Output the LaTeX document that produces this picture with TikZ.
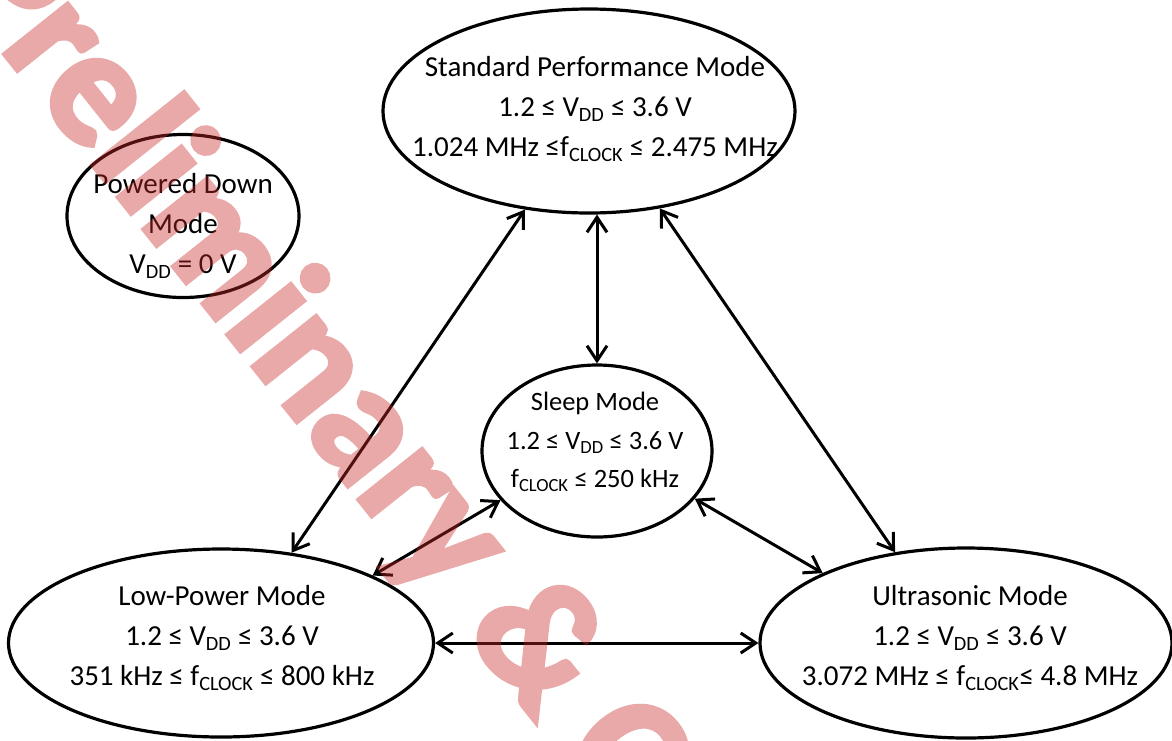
\documentclass[tikz,border=0pt]{standalone}
\usepackage{fontspec}
\setmainfont{Carlito}
\newfontfamily\wmfont[FakeBold=3]{Carlito Bold}
\usetikzlibrary{arrows.meta,shapes.geometric}
\definecolor{wmred}{RGB}{200,40,40}
\tikzset{
  modeell/.style={draw=black, line width=3.2pt, ellipse, inner sep=0pt},
  modetxt/.style={align=center, inner sep=0pt, font=\fontsize{29}{40}\selectfont},
  sleeptxt/.style={align=center, inner sep=0pt, font=\fontsize{26.5}{38.5}\selectfont},
  biarrow/.style={line width=3pt, {Straight Barb[length=15pt,width=20pt]}-{Straight Barb[length=15pt,width=20pt]}},
  wmark/.style={text=wmred, inner sep=0pt, font=\fontsize{166}{166}\wmfont\bfseries}
}
\begin{document}
\begin{tikzpicture}[x=1pt,y=-1pt]
\useasboundingbox (0,0) rectangle (1172,740);
\clip (0,0) rectangle (1172,740);
\fill[white] (0,0) rectangle (1172,740);
% ellipses
\node[modeell, minimum width=412pt, minimum height=204pt] (std) at (589,111) {};
\node[modeell, minimum width=232pt, minimum height=163pt] (pwr) at (183,216) {};
\node[modeell, minimum width=230pt, minimum height=172pt] (slp) at (597,451) {};
\node[modeell, minimum width=425pt, minimum height=188pt] (low) at (221,643) {};
\node[modeell, minimum width=412pt, minimum height=190pt] (ult) at (966,643) {};
% texts
\node[modetxt] (stdt) at (595,109) {Standard Performance Mode\\1.2 ≤ V\textsubscript{DD} ≤ 3.6 V\\1.024 MHz ≤f\textsubscript{CLOCK} ≤ 2.475 MHz};
\node[modetxt] (pwrt) at (183,226) {Powered Down\\Mode\\V\textsubscript{DD} = 0 V};
\node[sleeptxt] (slpt) at (595,442) {Sleep Mode\\1.2 ≤ V\textsubscript{DD} ≤ 3.6 V\\f\textsubscript{CLOCK} ≤ 250 kHz};
\node[modetxt] (lowt) at (222,638) {Low-Power Mode\\1.2 ≤ V\textsubscript{DD} ≤ 3.6 V\\351 kHz ≤ f\textsubscript{CLOCK} ≤ 800 kHz};
\node[modetxt] (ultt) at (970,638) {Ultrasonic Mode\\1.2 ≤ V\textsubscript{DD} ≤ 3.6 V\\3.072 MHz ≤ f\textsubscript{CLOCK}≤ 4.8 MHz};
% connectors
\draw[biarrow] (std.237) -- (low.52);
\draw[biarrow] (slp.north |- std.south) -- (slp.north);
\draw[biarrow] (std.306) -- (ult.128);
\draw[biarrow] (slp.207) -- (low.24);
\draw[biarrow] (slp.334) -- (ult.154);
\draw[biarrow] (low.east) -- (ult.west);
% watermark
\begin{scope}[transparency group, opacity=0.4]
\node[wmark, anchor=base west, rotate=-51.5] (wm) at (-56,-22) {Preliminary \& Confidential};
\end{scope}
\end{tikzpicture}
\end{document}
